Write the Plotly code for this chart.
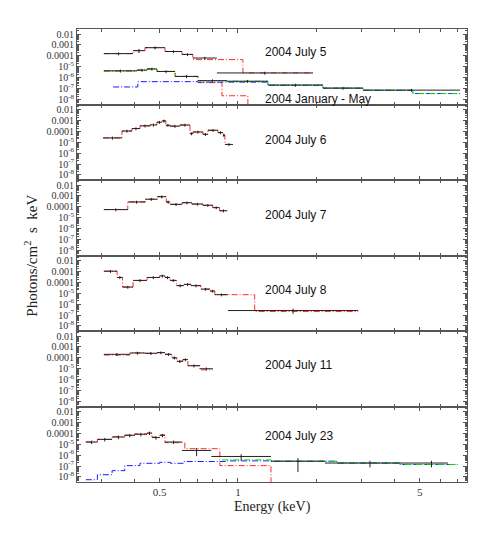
import plotly.graph_objects as go
from plotly.subplots import make_subplots

# ---- panel 1: 2004 July 5 (upper) + 2004 January - May (lower)
jul5_edges = [0.305, 0.395, 0.439, 0.524, 0.609, 0.671, 0.830, 1.942]
jul5_vals = [1.6e-4, 3.0e-4, 5.6e-4, 2.5e-4, 1.35e-4, 6.3e-5, 2.7e-6]
jul5_err = [0.3, 0.4, 0.3, 0.3, 0.3, 0.3, 0.3]
jul5_red_edges = [0.305, 0.395, 0.439, 0.524, 0.609, 0.671, 1.045, 1.942]
jul5_red_vals = [1.6e-4, 3.0e-4, 5.6e-4, 2.5e-4, 1.35e-4, 4.5e-5, 2.7e-6]

janmay_edges = [0.305, 0.409, 0.447, 0.488, 0.573, 0.702, 0.907, 1.304, 2.124, 3.025, 7.14]
janmay_vals = [4.2e-6, 4.9e-6, 6.3e-6, 3.7e-6, 1.3e-6, 5.3e-7, 4.7e-7, 2.1e-7, 1.1e-7, 7.2e-8]
janmay_err = [0.3, 0.3, 0.3, 0.3, 0.3, 0.3, 0.3, 0.3, 0.3, 0.3]
janmay_green_edges = [0.305, 0.409, 0.447, 0.488, 0.573, 0.702, 0.907, 1.304, 2.124, 3.025, 4.71, 7.14]
janmay_green_vals = [4.2e-6, 4.9e-6, 6.3e-6, 3.7e-6, 1.3e-6, 5.3e-7, 4.7e-7, 2.1e-7, 1.1e-7, 7.0e-8, 3.5e-8]
janmay_blue_edges = [0.331, 0.412, 0.70, 1.304, 2.124, 3.025, 4.71, 7.14]
janmay_blue_vals = [1.4e-7, 4.3e-7, 3.9e-7, 2.0e-7, 1.1e-7, 7.0e-8, 3.5e-8]
janmay_red_edges = [0.305, 0.409, 0.447, 0.488, 0.573, 0.702, 0.868, 1.092, 1.12]
janmay_red_vals = [4.2e-6, 4.9e-6, 6.3e-6, 3.7e-6, 1.3e-6, 3.5e-7, 2.2e-8, 1e-10]

# ---- panel 2: 2004 July 6
jul6_edges = [0.303, 0.358, 0.391, 0.420, 0.459, 0.488, 0.510, 0.528, 0.548, 0.598,
              0.654, 0.671, 0.733, 0.767, 0.838, 0.875, 0.891, 0.957]
jul6_vals = [2.5e-5, 1.07e-4, 1.8e-4, 3.2e-4, 3.9e-4, 6.9e-4, 9.1e-4, 3.6e-4, 3.0e-4,
             3.8e-4, 6.2e-5, 8.7e-5, 5.4e-5, 1.25e-4, 7.7e-5, 4.4e-5, 6.3e-6]
jul6_err = [0.3] * 17

# ---- panel 3: 2004 July 7
jul7_edges = [0.305, 0.377, 0.44, 0.49, 0.53, 0.548, 0.61, 0.665, 0.733, 0.80, 0.85, 0.91]
jul7_vals = [5.6e-5, 2.8e-4, 5.0e-4, 8.5e-4, 2.8e-4, 1.7e-4, 2.4e-4, 1.8e-4, 1.4e-4, 8.5e-5, 4.4e-5]
jul7_err = [0.3] * 11

# ---- panel 4: 2004 July 8
jul8_edges = [0.305, 0.343, 0.36, 0.395, 0.447, 0.50, 0.524, 0.548, 0.58, 0.62, 0.66,
              0.72, 0.78, 0.815, 0.915, 2.9]
jul8_vals = [1.05e-3, 2.8e-4, 3.7e-5, 1.5e-4, 2.8e-4, 3.9e-4, 2.8e-4, 1.5e-4, 5.0e-5,
             6.5e-5, 5.0e-5, 2.4e-5, 1.6e-5, 7.4e-6, 2.6e-7]
jul8_err = [0.3] * 14 + [0.5]
jul8_red_edges = [0.305, 0.343, 0.36, 0.395, 0.447, 0.50, 0.524, 0.548, 0.58, 0.62, 0.66,
                  0.72, 0.78, 0.815, 1.16, 2.9]
jul8_red_vals = [1.05e-3, 2.8e-4, 3.7e-5, 1.5e-4, 2.8e-4, 3.9e-4, 2.8e-4, 1.5e-4, 5.0e-5,
                 6.5e-5, 5.0e-5, 2.4e-5, 1.6e-5, 7.4e-6, 2.1e-7]

# ---- panel 5: 2004 July 11
jul11_edges = [0.305, 0.384, 0.439, 0.488, 0.524, 0.557, 0.582, 0.614, 0.642, 0.714, 0.801]
jul11_vals = [2.1e-4, 2.8e-4, 2.6e-4, 3.0e-4, 2.1e-4, 1.0e-4, 4.8e-5, 6.9e-5, 1.9e-5, 1.0e-5]
jul11_err = [0.3] * 10
jul11_red_vals = [1.8e-4, 2.8e-4, 2.6e-4, 3.0e-4, 2.1e-4, 1.0e-4, 4.8e-5, 6.9e-5, 1.9e-5, 8.0e-6]

# ---- panel 6: 2004 July 23
jul23_edges = [0.26, 0.288, 0.328, 0.367, 0.401, 0.447, 0.467, 0.501, 0.524, 0.609,
               0.79, 1.34, 2.16, 4.8, 6.42]
jul23_vals = [1.6e-5, 2.8e-5, 4.6e-5, 6.6e-5, 8.2e-5, 1.07e-4, 4.1e-5, 6.6e-5, 1.6e-5,
              2.7e-6, 7.6e-7, 2.8e-7, 1.9e-7, 1.9e-7]
jul23_err = [0.35] * 9 + [0.7, 0.6, 0.9, 0.6, 0.6]
jul23_red_edges = [0.26, 0.288, 0.328, 0.367, 0.401, 0.447, 0.467, 0.501, 0.524, 0.625,
                   0.852, 1.34, 1.36]
jul23_red_vals = [1.6e-5, 2.8e-5, 5.0e-5, 7.0e-5, 9.0e-5, 1.0e-4, 4.5e-5, 7.0e-5, 1.4e-5,
                  3.9e-6, 1.1e-7, 1e-10]
jul23_green_edges = [0.87, 1.34, 2.4, 4.2, 7.0]
jul23_green_vals = [3.7e-7, 2.8e-7, 1.9e-7, 1.4e-7]
jul23_blue_edges = [0.26, 0.288, 0.328, 0.367, 0.42, 0.50, 0.55, 0.62, 0.90, 1.34, 2.4, 4.2, 7.0]
jul23_blue_vals = [5.6e-9, 1.6e-8, 3.8e-8, 1.1e-7, 1.8e-7, 2.2e-7, 1.8e-7, 2.6e-7, 3.0e-7,
                   2.8e-7, 1.9e-7, 1.4e-7]

labels = ["2004 July 5", "2004 January - May", "2004 July 6", "2004 July 7",
          "2004 July 8", "2004 July 11", "2004 July 23"]

x_major = [0.5, 1, 5]
x_minor = [0.3, 0.4, 0.6, 0.7, 0.8, 0.9, 2, 3, 4, 6, 7]
y_major = [1e-2, 1e-3, 1e-4, 1e-5, 1e-6, 1e-7, 1e-8]
y_text = ["0.01", "0.001", "0.0001", "10<sup>-5</sup>", "10<sup>-6</sup>",
          "10<sup>-7</sup>", "10<sup>-8</sup>"]
y_minor = [k * 10.0 ** d for d in range(-9, -1) for k in range(2, 10)]

RED = "#ff2a2a"
GREEN = "#00dd00"
BLUE = "#1a1aff"
DASH = "6px,2px,1px,2px"

fig = make_subplots(rows=6, cols=1, shared_xaxes=True, vertical_spacing=0)


def model(edges, vals, color, row):
    fig.add_trace(go.Scatter(x=edges, y=vals + [vals[-1]], mode="lines",
                             line=dict(color=color, width=1, dash=DASH, shape="hv"),
                             hoverinfo="skip"), row=row, col=1)


def data(edges, vals, err, row):
    xs, ys = [], []
    for i, v in enumerate(vals):
        xs += [edges[i], edges[i + 1], None]
        ys += [v, v, None]
    fig.add_trace(go.Scatter(x=xs, y=ys, mode="lines",
                             line=dict(color="#222", width=1)), row=row, col=1)
    cx = [(edges[i] * edges[i + 1]) ** 0.5 for i in range(len(vals))]
    fig.add_trace(go.Scatter(x=cx, y=vals, mode="markers",
                             marker=dict(size=1, color="#222"),
                             error_y=dict(type="data", array=[v * e for v, e in zip(vals, err)],
                                          arrayminus=[v * e for v, e in zip(vals, err)],
                                          color="#222", thickness=1, width=0)),
                  row=row, col=1)


# panel 1
model(jul5_red_edges, jul5_red_vals, RED, 1)
model(janmay_red_edges, janmay_red_vals, RED, 1)
model(janmay_blue_edges, janmay_blue_vals, BLUE, 1)
model(janmay_green_edges, janmay_green_vals, GREEN, 1)
data(jul5_edges, jul5_vals, jul5_err, 1)
data(janmay_edges, janmay_vals, janmay_err, 1)
# panel 2
model(jul6_edges, jul6_vals, RED, 2)
data(jul6_edges, jul6_vals, jul6_err, 2)
# panel 3
model(jul7_edges, jul7_vals, RED, 3)
data(jul7_edges, jul7_vals, jul7_err, 3)
# panel 4
model(jul8_red_edges, jul8_red_vals, RED, 4)
data(jul8_edges, jul8_vals, jul8_err, 4)
# panel 5
model(jul11_edges, jul11_red_vals, RED, 5)
data(jul11_edges, jul11_vals, jul11_err, 5)
# panel 6
model(jul23_red_edges, jul23_red_vals, RED, 6)
model(jul23_blue_edges, jul23_blue_vals, BLUE, 6)
model(jul23_green_edges, jul23_green_vals, GREEN, 6)
data(jul23_edges, jul23_vals, jul23_err, 6)

axcol = "#555"
fig.update_xaxes(type="log", range=[-0.619, 0.881], tickvals=x_major, automargin=False,
                 ticktext=["0.5", "1", "5"], ticks="inside", ticklen=4, tickcolor=axcol,
                 showline=True, linecolor=axcol, linewidth=1, mirror="allticks",
                 showgrid=False, zeroline=False,
                 minor=dict(tickvals=x_minor, ticks="inside", ticklen=3,
                            tickcolor=axcol, showgrid=False),
                 tickfont=dict(family="Liberation Serif", size=11, color="#333"))
fig.update_yaxes(type="log", range=[-8.46, -1.54], tickvals=y_major, ticktext=y_text,
                 automargin=False, ticks="inside", ticklen=4, tickcolor=axcol,
                 showline=True, linecolor=axcol, linewidth=1, mirror="allticks",
                 showgrid=False, zeroline=False,
                 minor=dict(tickvals=y_minor, ticks="inside", ticklen=2,
                            tickcolor=axcol, showgrid=False),
                 tickfont=dict(family="Liberation Serif", size=10, color="#333"))

# panel labels: (subplot, log10 energy, log10 flux)
label_pos = [(1, 0.097, -3.64), (1, 0.097, -7.96), (2, 0.097, -4.75), (3, 0.097, -4.75),
             (4, 0.097, -4.73), (5, 0.097, -4.69), (6, 0.097, -4.27)]
for text, (r, lx, ly) in zip(labels, label_pos):
    sfx = "" if r == 1 else str(r)
    fig.add_annotation(text=text, x=lx, y=ly, xref="x" + sfx, yref="y" + sfx,
                       xanchor="left", yanchor="middle", showarrow=False,
                       font=dict(family="Liberation Sans", size=12, color="#111"))

fig.add_annotation(text="Energy (keV)", x=0.5, y=-0.055, xref="paper", yref="paper",
                   xanchor="center", yanchor="middle", showarrow=False,
                   font=dict(family="Liberation Serif", size=14, color="#222"))
fig.add_annotation(text="Photons/cm<sup>2</sup>\u00a0 s\u00a0 keV", x=-0.12, y=0.5,
                   xref="paper", yref="paper", textangle=-90,
                   xanchor="center", yanchor="middle", showarrow=False,
                   font=dict(family="Liberation Serif", size=15, color="#222"))

# the page adds an 8px body margin, so the figure is 16px smaller than the window
fig.update_layout(width=477, height=524, showlegend=False,
                  margin=dict(l=69, r=18, t=21, b=50),
                  paper_bgcolor="white", plot_bgcolor="white")

fig.write_html("out.html")
